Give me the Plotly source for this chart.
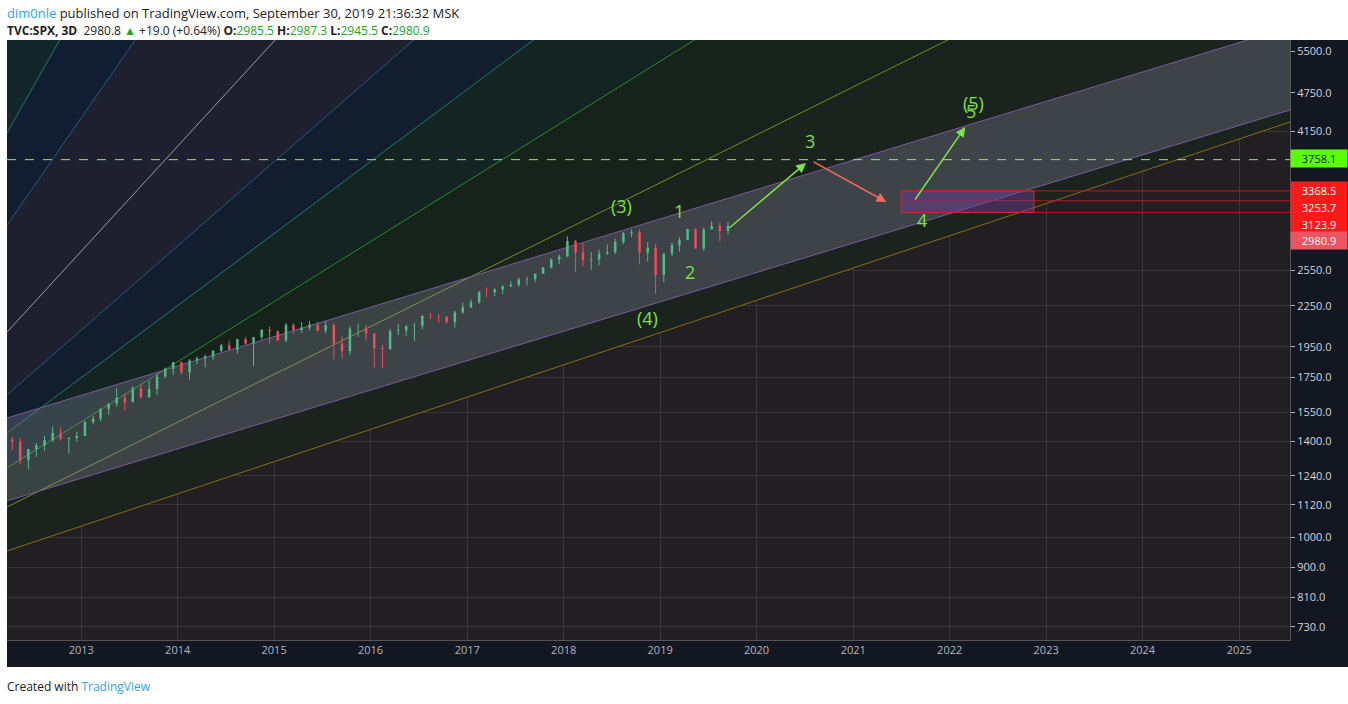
import math

import pandas as pd
import plotly.graph_objects as go

# monthly S&P 500 candles (approximate)
opens = [1408, 1398, 1310, 1362, 1379, 1406, 1441, 1412, 1416,
         1426, 1498, 1515, 1569, 1598, 1631, 1606, 1686, 1633, 1682, 1757, 1806,
         1848, 1783, 1859, 1872, 1884, 1924, 1960, 1931, 2003, 1972, 2018, 2068,
         2059, 1995, 2105, 2068, 2086, 2107, 2063, 2104, 1972, 1920, 2079, 2080,
         2044, 1940, 1932, 2060, 2065, 2097, 2099, 2174, 2171, 2168, 2126, 2199,
         2239, 2279, 2364, 2363, 2384, 2412, 2423, 2470, 2472, 2519, 2575, 2648,
         2674, 2824, 2714, 2641, 2648, 2705, 2718, 2816, 2902, 2914, 2712, 2760,
         2507, 2704, 2784, 2834, 2946, 2752, 2942, 2980, 2926]
highs = [1422, 1415, 1363, 1392, 1426, 1475, 1470, 1420, 1448,
         1504, 1530, 1570, 1598, 1687, 1654, 1698, 1709, 1730, 1776, 1813, 1849,
         1851, 1867, 1884, 1897, 1924, 1968, 1991, 2005, 2019, 2018, 2075, 2093,
         2064, 2120, 2117, 2126, 2135, 2130, 2133, 2113, 2021, 2094, 2116, 2104,
         2044, 1963, 2073, 2112, 2103, 2120, 2178, 2194, 2188, 2169, 2214, 2278,
         2301, 2371, 2401, 2399, 2419, 2454, 2484, 2491, 2519, 2582, 2657, 2695,
         2873, 2836, 2801, 2718, 2742, 2791, 2848, 2916, 2941, 2940, 2815, 2800,
         2708, 2813, 2860, 2949, 2954, 2964, 3028, 3014, 3022]
lows = [1358, 1292, 1267, 1325, 1355, 1397, 1403, 1343, 1398,
        1426, 1485, 1501, 1536, 1581, 1560, 1605, 1627, 1633, 1646, 1747, 1768,
        1771, 1737, 1834, 1815, 1862, 1915, 1930, 1904, 1964, 1821, 2001, 1972,
        1988, 1981, 2039, 2048, 2067, 2057, 2044, 1867, 1872, 1893, 2019, 1993,
        1812, 1810, 1932, 2033, 2026, 1991, 2074, 2147, 2120, 2115, 2084, 2187,
        2233, 2267, 2322, 2329, 2345, 2404, 2407, 2417, 2446, 2520, 2566, 2605,
        2682, 2533, 2586, 2553, 2594, 2691, 2699, 2796, 2864, 2603, 2631, 2347,
        2444, 2681, 2723, 2848, 2750, 2729, 2952, 2822, 2891]
closes = [1398, 1310, 1362, 1379, 1406, 1441, 1412, 1416, 1426,
          1498, 1515, 1569, 1598, 1631, 1606, 1686, 1633, 1682, 1757, 1806, 1848,
          1783, 1859, 1872, 1884, 1924, 1960, 1931, 2003, 1972, 2018, 2068, 2059,
          1995, 2105, 2068, 2086, 2107, 2063, 2104, 1972, 1920, 2079, 2080, 2044,
          1940, 1932, 2060, 2065, 2097, 2099, 2174, 2171, 2168, 2126, 2199, 2239,
          2279, 2364, 2363, 2384, 2412, 2423, 2470, 2472, 2519, 2575, 2648, 2674,
          2824, 2714, 2641, 2648, 2705, 2718, 2816, 2902, 2914, 2712, 2760, 2507,
          2704, 2784, 2834, 2946, 2752, 2942, 2980, 2926, 2977]
dates = pd.date_range("2012-04-01", periods=len(closes), freq="MS") + pd.Timedelta(days=14)

X0, X1 = "2012-03-26", "2025-07-12"

# channel
chan_upper = [1519, 5983]
chan_lower = [1136, 4474]

# fan lines, price at X0 and X1 (bottom to top)
fan = [
    ("orange", [953, 4289], "#8a6a1e"),
    ("olive", [1112, 10375], "#7a8a2a"),
    ("green", [1275, 20990], "#2e8a2a"),
    ("teal", [1441, 41450], "#1f7a6a"),
    ("blue", [1647, 83560], "#245a8a"),
    ("white", [2053, 276000], "#9a9aa0"),
    ("blue2", [2988, 1.98e6], "#245a8a"),
    ("teal2", [4126, 1.15e7], "#1f7a6a"),
]
region_fill = ["#1b231f", "#15231a", "#132423", "#121e2e", "#1e2030",
               "#1e2030", "#111d30", "#13262a"]

ytick_vals = [730, 810, 900, 1000, 1120, 1240, 1400, 1550, 1750, 1950,
              2250, 2550, 4150, 4750, 5500]
levels_red = [3368.5, 3253.7, 3123.9]
level_green = 3758.1
last_close = 2980.9

fig = go.Figure()

# fan fills
for i, (name, pr, col) in enumerate(fan):
    top = fan[i + 1][1] if i + 1 < len(fan) else [1e8, 1e9]
    fig.add_trace(go.Scatter(x=[X0, X1], y=pr, mode="lines", line=dict(width=0),
                             hoverinfo="skip", showlegend=False))
    fig.add_trace(go.Scatter(x=[X0, X1], y=top, mode="lines", line=dict(width=0),
                             fill="tonexty", fillcolor=region_fill[i],
                             hoverinfo="skip", showlegend=False))
for name, pr, col in fan:
    fig.add_trace(go.Scatter(x=[X0, X1], y=pr, mode="lines", line=dict(color=col, width=1),
                             hoverinfo="skip", showlegend=False))

# channel
fig.add_trace(go.Scatter(x=[X0, X1], y=chan_lower, mode="lines",
                         line=dict(color="#7b5a9a", width=1), showlegend=False))
fig.add_trace(go.Scatter(x=[X0, X1], y=chan_upper, mode="lines",
                         line=dict(color="#7b5a9a", width=1), fill="tonexty",
                         fillcolor="rgba(150,150,175,0.28)", showlegend=False))

# candles as scatter segments so they sit above the fills
for up, col in [(True, "#53b987"), (False, "#eb4d5c")]:
    wx, wy, bx, by = [], [], [], []
    for d, o, h, l, c in zip(dates, opens, highs, lows, closes):
        if (c >= o) != up:
            continue
        wx += [d, d, None]
        wy += [l, h, None]
        bx += [d, d, None]
        by += [o, c if c != o else c + 2, None]
    fig.add_trace(go.Scatter(x=wx, y=wy, mode="lines", line=dict(color=col, width=1),
                             showlegend=False, hoverinfo="skip"))
    fig.add_trace(go.Scatter(x=bx, y=by, mode="lines", line=dict(color=col, width=2.5),
                             showlegend=False, hoverinfo="skip"))

# horizontal levels
fig.add_shape(type="line", xref="paper", x0=0, x1=1, y0=level_green, y1=level_green,
              line=dict(color="#a8d890", width=1, dash="dash"))
for lv in levels_red:
    fig.add_shape(type="line", x0="2021-07-01", x1=X1, y0=lv, y1=lv,
                  line=dict(color="#c01818", width=1))
fig.add_shape(type="rect", x0="2021-07-01", x1="2022-11-16", y0=levels_red[2], y1=levels_red[0],
              fillcolor="rgba(110,60,150,0.45)", line=dict(color="#e02020", width=1))

green = "#7ee04a"
labels = [("(3)", "2018-08-06", 3.5044), ("1", "2019-03-13", 3.4968), ("2", "2019-04-23", 3.4039),
          ("(4)", "2018-11-16", 3.3338), ("3", "2020-07-21", 3.6034), ("4", "2021-09-18", 3.4831),
          ("5", "2022-03-24", 3.649), ("(5)", "2022-03-31", 3.6612)]
for t, d, ly in labels:
    fig.add_annotation(x=d, y=ly, text=t, showarrow=False,
                       font=dict(color=green, size=18, family="Open Sans"))

arrows = [("2019-09-15", 3.4693, "2020-07-06", 3.5699, green),
          ("2020-07-29", 3.5729, "2021-05-06", 3.5105, "#f06a60"),
          ("2021-08-19", 3.5120, "2022-03-01", 3.6247, green)]
for xa, ya, xb, yb, c in arrows:
    fig.add_annotation(x=xb, y=yb, ax=xa, ay=ya, axref="x", ayref="y", text="",
                       showarrow=True, arrowhead=2, arrowsize=1.3, arrowwidth=1.5, arrowcolor=c)

# axis price labels (stacked like TradingView does, pixel rows from top)
axis_labels = [(level_green, "#5aff00", "#131722", 158), (levels_red[0], "#ff1a1a", "white", 190),
               (levels_red[1], "#ff1a1a", "white", 207), (levels_red[2], "#ff1a1a", "white", 224),
               (last_close, "#eb5460", "white", 241)]
for lv, bg, fc, row in axis_labels:
    fig.add_annotation(xref="paper", yref="paper", x=1, y=(640 - row) / 600, xanchor="left",
                       yanchor="middle", text=f"{lv:.1f}", showarrow=False, bgcolor=bg,
                       font=dict(color=fc, size=11, family="Open Sans"),
                       borderpad=0, width=56, height=17, align="center")

# dark axis strips
fig.add_shape(type="rect", xref="paper", yref="paper", x0=1, x1=1 + 58 / 1283, y0=-27 / 600, y1=1,
              fillcolor="#131722", line=dict(width=0), layer="below")
fig.add_shape(type="rect", xref="paper", yref="paper", x0=0, x1=1, y0=-27 / 600, y1=0,
              fillcolor="#131722", line=dict(width=0), layer="below")

# header / footer
fig.add_annotation(xref="paper", yref="paper", x=-2 / 1283, y=1 + 27 / 600, xanchor="left",
                   yanchor="middle", showarrow=False, font=dict(size=13, family="Open Sans", color="#222"),
                   text="<span style='color:#2fa4e7'>dim0nle</span> published on TradingView.com, "
                        "September 30, 2019 21:36:32 MSK")
fig.add_annotation(xref="paper", yref="paper", x=-2 / 1283, y=1 + 10 / 600, xanchor="left",
                   yanchor="middle", showarrow=False, font=dict(size=12, family="Open Sans", color="#222"),
                   text="<b>TVC:SPX, 3D</b>  2980.8 <span style='color:#1aa71a'>▲</span> +19.0 (+0.64%) "
                        "<b>O:</b><span style='color:#1aa71a'>2985.5</span> "
                        "<b>H:</b><span style='color:#1aa71a'>2987.3</span> "
                        "<b>L:</b><span style='color:#1aa71a'>2945.5</span> "
                        "<b>C:</b><span style='color:#1aa71a'>2980.9</span>")
fig.add_annotation(xref="paper", yref="paper", x=-2 / 1283, y=-46 / 600, xanchor="left",
                   yanchor="middle", showarrow=False, font=dict(size=12, family="Open Sans", color="#222"),
                   text="Created with <span style='color:#2fa4e7'>TradingView</span>")

fig.update_layout(
    width=1348, height=704,
    margin=dict(l=7, r=58, t=40, b=64),
    paper_bgcolor="white", plot_bgcolor="#221f22",
    showlegend=False,
    xaxis=dict(range=[X0, X1], type="date",
               showgrid=True, gridcolor="rgba(120,125,140,0.25)", dtick="M12", tickformat="%Y",
               tickfont=dict(color="#b2b5be", size=11, family="Open Sans"),
               ticks="", zeroline=False, showline=True, linecolor="#555"),
    yaxis=dict(type="log", range=[2.8435, 3.7572], side="right", tickvals=ytick_vals,
               ticktext=[f"{v:.1f}" for v in ytick_vals], showgrid=True,
               gridcolor="rgba(120,125,140,0.25)", ticks="outside", ticklen=4, tickcolor="#b2b5be",
               tickfont=dict(color="#d1d4dc", size=11, family="Open Sans"), zeroline=False,
               showline=True, linecolor="#555"),
)

fig.write_html("out.html", config={"displayModeBar": False})

# drop the default page margin so the figure sits at the window's corner
with open("out.html") as f:
    page = f.read()
page = page.replace("<head>", "<head><style>body{margin:0}</style>", 1)
with open("out.html", "w") as f:
    f.write(page)
